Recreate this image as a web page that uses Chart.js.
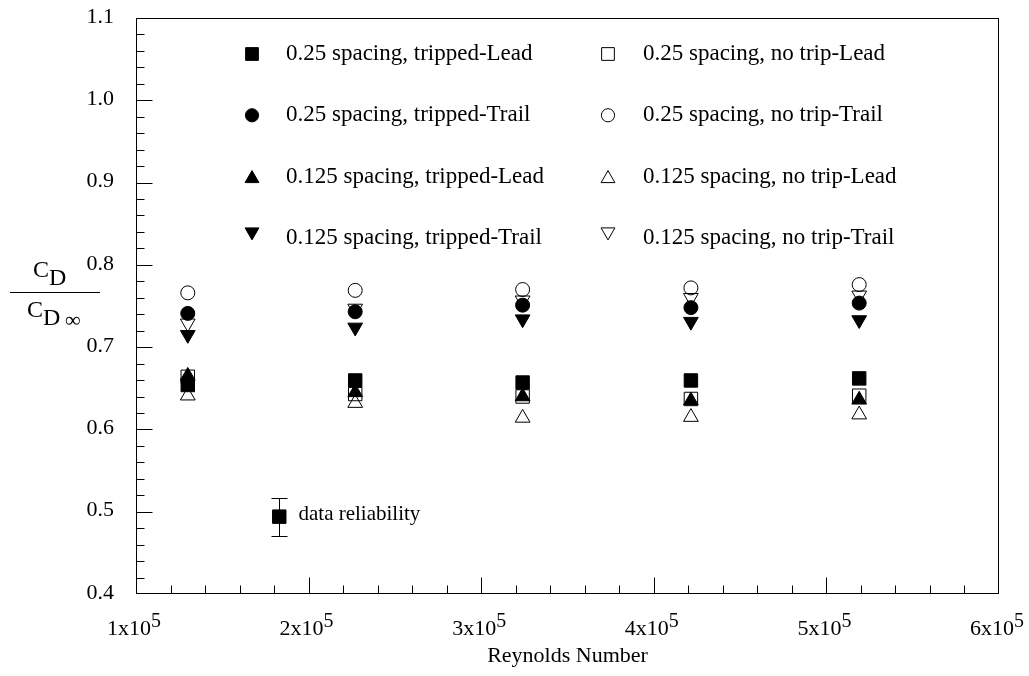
<!DOCTYPE html>
<html>
<head>
<meta charset="utf-8">
<script src="https://cdn.jsdelivr.net/npm/chart.js@4.4.0/dist/chart.umd.min.js"></script>
<style>
    body { margin: 0; background: #fff; }
    #grafico { display: block; }
</style>
</head>
<body>
<canvas id="grafico" width="1029" height="676"></canvas>
<script>
// valores
const reynolds = [1.3e5, 2.27e5, 3.24e5, 4.215e5, 5.19e5]

const tripLead25 = [0.654, 0.6595, 0.657, 0.6595, 0.662]
const tripTrail25 = [0.741, 0.743, 0.751, 0.748, 0.7535]
const tripLead125 = [0.665, 0.645, 0.640, 0.635, 0.636]
const tripTrail125 = [0.715, 0.724, 0.734, 0.731, 0.733]

const noTripLead25 = [0.664, 0.643, 0.640, 0.637, 0.641]
const noTripTrail25 = [0.766, 0.769, 0.770, 0.772, 0.776]
const noTripLead125 = [0.641, 0.632, 0.614, 0.615, 0.618]
const noTripTrail125 = [0.729, 0.747, 0.757, 0.760, 0.763]

const confiabilidadeX = [1.83e5]
const confiabilidadeY = [0.494]
const confiabilidadeErro = [0.023]

const ticksX = [1e5, 2e5, 3e5, 4e5, 5e5, 6e5]
const rotulosX = ['1x10', '2x10', '3x10', '4x10', '5x10', '6x10']
const expoenteX = '5'
const ticksY = [0.4, 0.5, 0.6, 0.7, 0.8, 0.9, 1.0, 1.1]

const fonte = '"Liberation Serif", "Times New Roman", serif'

function pontos(ys, xs = reynolds) {
    return ys.map((y, i) => ({ x: xs[i], y: y }))
}

function serie(label, ys, estilo, cheio, rotacao = 0) {
    const raio = { rect: 9.5, circle: 7, triangle: 8.5 }[estilo]
    return {
        label: label,
        data: pontos(ys),
        pointStyle: estilo,
        pointRotation: rotacao,
        pointRadius: raio,
        pointHoverRadius: raio,
        pointBackgroundColor: cheio ? '#000' : 'rgba(0,0,0,0)',
        pointBorderColor: '#000',
        pointBorderWidth: 1,
        showLine: false
    }
}

const datasets = [
    serie('0.25 spacing, no trip-Lead', noTripLead25, 'rect', false),
    serie('0.25 spacing, no trip-Trail', noTripTrail25, 'circle', false),
    serie('0.125 spacing, no trip-Lead', noTripLead125, 'triangle', false),
    serie('0.125 spacing, no trip-Trail', noTripTrail125, 'triangle', false, 180),
    serie('0.25 spacing, tripped-Lead', tripLead25, 'rect', true),
    serie('0.25 spacing, tripped-Trail', tripTrail25, 'circle', true),
    serie('0.125 spacing, tripped-Lead', tripLead125, 'triangle', true),
    serie('0.125 spacing, tripped-Trail', tripTrail125, 'triangle', true, 180)
]

const confiabilidade = serie('data reliability', confiabilidadeY, 'rect', true)
confiabilidade.data = pontos(confiabilidadeY, confiabilidadeX)
confiabilidade.erro = confiabilidadeErro
datasets.push(confiabilidade)

// ordem da legenda: coluna cheia a esquerda, vazia a direita
const ordemLegenda = [
    [4, 5, 6, 7],
    [0, 1, 2, 3]
]

const eixosPlugin = {
    id: 'eixos',
    afterDraw(chart) {
        const ctx = chart.ctx
        const area = chart.chartArea
        const sx = chart.scales.x
        const sy = chart.scales.y
        ctx.save()
        ctx.strokeStyle = '#000'
        ctx.lineWidth = 1
        ctx.strokeRect(area.left + 0.5, area.top + 0.5, area.right - area.left - 1, area.bottom - area.top - 1)

        const base = area.bottom - 0.5
        const esq = area.left + 0.5
        const limita = (v, a, b) => Math.max(a, Math.min(b, v))
        ctx.beginPath()
        for (let v = sx.min; v <= sx.max + 1; v += 2e4) {
            const px = limita(Math.round(sx.getPixelForValue(v)) + 0.5, area.left + 0.5, area.right - 0.5)
            const maior = Math.abs(v / 1e5 - Math.round(v / 1e5)) < 1e-6
            ctx.moveTo(px, base)
            ctx.lineTo(px, base - (maior ? 16 : 8))
        }
        for (let v = sy.min; v <= sy.max + 1e-9; v += 0.02) {
            const py = limita(Math.round(sy.getPixelForValue(v)) + 0.5, area.top + 0.5, area.bottom - 0.5)
            const maior = Math.abs(v * 10 - Math.round(v * 10)) < 1e-6
            ctx.moveTo(esq, py)
            ctx.lineTo(esq + (maior ? 16 : 8), py)
        }
        ctx.stroke()

        // rotulos do eixo x com expoente
        ctx.fillStyle = '#000'
        ctx.textBaseline = 'alphabetic'
        ctx.textAlign = 'left'
        ticksX.forEach((v, i) => {
            const px = sx.getPixelForValue(v)
            ctx.font = '22px ' + fonte
            const w1 = ctx.measureText(rotulosX[i]).width
            ctx.font = '20px ' + fonte
            const w2 = ctx.measureText(expoenteX).width
            const x0 = px - (w1 + w2) / 2 - 2
            ctx.font = '22px ' + fonte
            ctx.fillText(rotulosX[i], x0, area.bottom + 41)
            ctx.font = '20px ' + fonte
            ctx.fillText(expoenteX, x0 + w1, area.bottom + 33)
        })

        ctx.font = '22px ' + fonte
        ctx.textAlign = 'center'
        ctx.fillText('Reynolds Number', (area.left + area.right) / 2, area.bottom + 68)

        // rotulos do eixo y
        ctx.textAlign = 'right'
        ctx.textBaseline = 'middle'
        ticksY.forEach(v => {
            ctx.fillText(v.toFixed(1), area.left - 22, sy.getPixelForValue(v) - 1)
        })

        // titulo do eixo y: C_D / C_D inf
        ctx.textAlign = 'left'
        ctx.textBaseline = 'alphabetic'
        ctx.font = '24px ' + fonte
        ctx.fillText('C', 33, 277)
        let wc = ctx.measureText('C').width
        ctx.fillText('D', 33 + wc, 285)
        ctx.fillText('C', 27, 317)
        ctx.fillText('D', 27 + wc, 325)
        ctx.font = '22px ' + fonte
        ctx.fillText('\u221E', 65, 327)
        ctx.beginPath()
        ctx.moveTo(10, 292.5)
        ctx.lineTo(100, 292.5)
        ctx.stroke()
        ctx.restore()
    }
}

const legendaPlugin = {
    id: 'legenda',
    afterDraw(chart) {
        const ctx = chart.ctx
        const colunas = [{ marca: 252, texto: 286 }, { marca: 608, texto: 643 }]
        ctx.save()
        ctx.font = '23px ' + fonte
        ctx.textAlign = 'left'
        ctx.textBaseline = 'alphabetic'
        ordemLegenda.forEach((lista, c) => {
            lista.forEach((idx, r) => {
                const ds = chart.data.datasets[idx]
                const linha = 60 + 61.3 * r
                let dy = -6
                let raio = ds.pointStyle === 'rect' ? 9 : 6.6
                if (ds.pointStyle === 'triangle') {
                    raio = 8
                    dy = ds.pointRotation ? -12 : -4
                }
                ctx.fillStyle = ds.pointBackgroundColor
                ctx.strokeStyle = '#000'
                ctx.lineWidth = 1
                Chart.helpers.drawPoint(ctx, {
                    pointStyle: ds.pointStyle,
                    rotation: ds.pointRotation,
                    radius: raio,
                    borderWidth: 1
                }, colunas[c].marca, linha + dy)
                ctx.fillStyle = '#000'
                ctx.fillText(ds.label, colunas[c].texto, linha)
            })
        })
        ctx.restore()
    }
}

const erroPlugin = {
    id: 'barraErro',
    afterDatasetsDraw(chart) {
        const ctx = chart.ctx
        const sx = chart.scales.x
        const sy = chart.scales.y
        ctx.save()
        ctx.strokeStyle = '#000'
        ctx.lineWidth = 1
        chart.data.datasets.forEach(ds => {
            if (!ds.erro) return
            ds.data.forEach((p, i) => {
                const px = Math.round(sx.getPixelForValue(p.x)) + 0.5
                const topo = Math.round(sy.getPixelForValue(p.y + ds.erro[i])) + 0.5
                const fundo = Math.round(sy.getPixelForValue(p.y - ds.erro[i])) + 0.5
                ctx.beginPath()
                ctx.moveTo(px, topo)
                ctx.lineTo(px, fundo)
                ctx.moveTo(px - 8, topo)
                ctx.lineTo(px + 8, topo)
                ctx.moveTo(px - 8, fundo)
                ctx.lineTo(px + 8, fundo)
                ctx.stroke()
                ctx.fillStyle = '#000'
                ctx.font = '21px ' + fonte
                ctx.textBaseline = 'middle'
                ctx.fillText(ds.label, px + 19, sy.getPixelForValue(p.y) - 2)
            })
        })
        ctx.restore()
    }
}

const grafico = new Chart(document.getElementById('grafico'), {
    type: 'scatter',
    data: { datasets: datasets },
    options: {
        responsive: false,
        animation: false,
        devicePixelRatio: 1,
        layout: {
            padding: { left: 136, top: 18, right: 30, bottom: 82 }
        },
        scales: {
            x: { type: 'linear', min: 1e5, max: 6e5, display: false },
            y: { type: 'linear', min: 0.4, max: 1.1, display: false }
        },
        plugins: {
            legend: { display: false },
            tooltip: { enabled: false }
        }
    },
    plugins: [eixosPlugin, legendaPlugin, erroPlugin]
})
</script>
</body>
</html>
